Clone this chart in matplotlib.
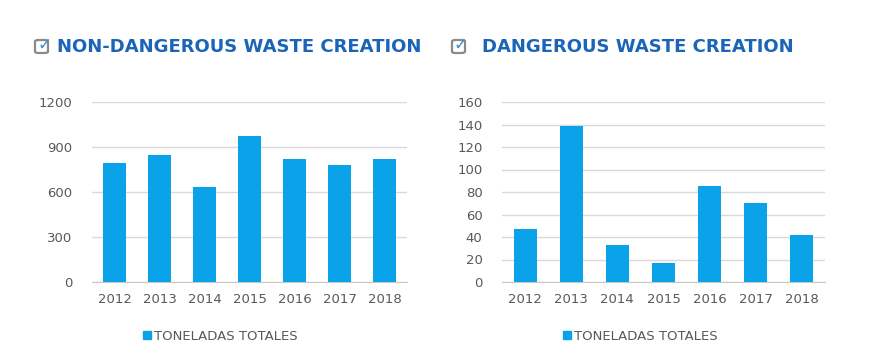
import matplotlib
matplotlib.use("Agg")
import matplotlib.pyplot as plt
from matplotlib.patches import Patch, FancyBboxPatch

years = ["2012", "2013", "2014", "2015", "2016", "2017", "2018"]
non_dangerous = [795, 847, 633, 973, 818, 782, 820]
dangerous = [47.5, 139, 32.5, 17, 85.5, 70.5, 42]
legend_label = "TONELADAS TOTALES"
titles = ["NON-DANGEROUS WASTE CREATION", "DANGEROUS WASTE CREATION"]

bar_color = "#0aa2e8"
title_color = "#1b65b8"
text_color = "#595959"
grid_color = "#d9d9d9"

fig = plt.figure(figsize=(8.9, 3.63), dpi=100)
plt.rcParams['font.family'] = ['DejaVu Sans']

def draw_panel(rect, values, ymax, step, width):
    ax = fig.add_axes(rect)
    x = range(len(years))
    ax.bar(x, values, width=width, color=bar_color, zorder=3)
    ax.set_ylim(0, ymax)
    ax.set_xlim(-0.5, len(years) - 0.5)
    ax.set_yticks(range(0, ymax + 1, step))
    ax.set_xticks(list(x))
    ax.set_xticklabels(years)
    ax.yaxis.grid(True, color=grid_color, linewidth=1, zorder=0)
    for s in ["top", "right", "left"]:
        ax.spines[s].set_visible(False)
    ax.spines["bottom"].set_color("#c8c8c8")
    ax.tick_params(length=0, labelsize=9.5, colors=text_color, pad=8)
    ax.tick_params(axis="y", pad=14)
    return ax

ax1 = draw_panel([92 / 890, 1 - 282 / 363, 315 / 890, 180 / 363], non_dangerous, 1200, 300, 0.52)
ax2 = draw_panel([502 / 890, 1 - 282 / 363, 323 / 890, 180 / 363], dangerous, 160, 20, 0.5)

# legends below each panel
for ax, lx in [(ax1, 143 / 890), (ax2, 563 / 890)]:
    ax.legend(handles=[Patch(color=bar_color, label=legend_label)],
              loc="center left", bbox_to_anchor=(lx, 1 - 336 / 363),
              bbox_transform=fig.transFigure, frameon=False,
              handlelength=0.6, handleheight=0.6, handletextpad=0.25,
              borderaxespad=0, borderpad=0, prop={"size": 9.5},
              labelcolor=text_color)

# titles with check-box icons
for bx, tx, title in [(35, 57, titles[0]), (452, 482, titles[1])]:
    box = FancyBboxPatch((bx / 890, 1 - 53 / 363), 13 / 890, 13 / 363,
                         boxstyle="round,pad=0,rounding_size=0.004",
                         transform=fig.transFigure, facecolor="white",
                         edgecolor="#8a8a8a", linewidth=1.6)
    fig.patches.append(box)
    fig.text((bx + 2) / 890, 1 - 45 / 363, "\u2713", fontsize=12, color="#2f8fe0",
             va="center", ha="left", fontweight="bold")
    fig.text(tx / 890, 1 - 47 / 363, title, fontsize=13, color=title_color,
             fontweight="bold", va="center", ha="left")

fig.savefig("out.png", dpi=100)
